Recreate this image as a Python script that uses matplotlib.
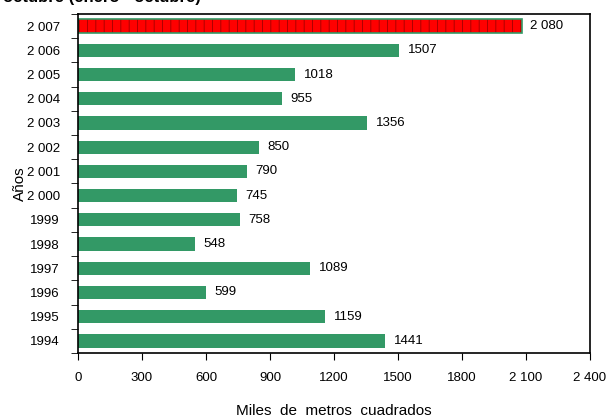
import numpy as np
import matplotlib
matplotlib.use("Agg")
from matplotlib import pyplot as plt

plt.rcParams['font.family'] = ['Liberation Sans', 'DejaVu Sans']
plt.rcParams['hatch.linewidth'] = 0.6

years = ['1994', '1995', '1996', '1997', '1998', '1999', '2 000', '2 001',
         '2 002', '2 003', '2 004', '2 005', '2 006', '2 007']
values = [1441, 1159, 599, 1089, 548, 758, 745, 790, 850, 1356, 955, 1018, 1507, 2080]
value_labels = ['1441', '1159', '599', '1089', '548', '758', '745', '790',
                '850', '1356', '955', '1018', '1507', '2 080']
xticks = [0, 300, 600, 900, 1200, 1500, 1800, 2100, 2400]
xtick_labels = ['0', '300', '600', '900', '1200', '1500', '1800', '2 100', '2 400']

green = '#339966'
fig = plt.figure(figsize=(6.13, 4.19), dpi=100)
ax = fig.add_axes([78/613, 1-353/419, 512/613, 339/419])

y = np.arange(len(years))
bars = ax.barh(y, values, height=0.55, color=green, edgecolor='none')
# last year highlighted
bars[-1].set_facecolor('#ff0000')
bars[-1].set_edgecolor(green)
bars[-1].set_hatch('||')
bars[-1].set_linewidth(1.2)
bars[-1]._hatch_color = matplotlib.colors.to_rgba('#a00000')

for yi, v, lab in zip(y, values, value_labels):
    ax.annotate(lab, (v, yi), xytext=(6, 0), textcoords='offset points',
                va='center', ha='left', fontsize=9.5)

ax.set_xlim(0, 2400)
ax.set_ylim(-0.5, len(years) - 0.5)
ax.set_xticks(xticks)
ax.set_xticklabels(xtick_labels, fontsize=9.5)
ax.set_yticks(y)
ax.set_yticklabels(years, fontsize=9.5)
ax.set_yticks(np.arange(-0.5, len(years)), minor=True)
ax.tick_params(axis='y', which='major', length=0, pad=13)
ax.tick_params(axis='y', which='minor', length=5, direction='out')
ax.tick_params(axis='x', length=5, direction='out', pad=9)
for s in ax.spines.values():
    s.set_linewidth(1.2)

ax.set_xlabel('Miles  de  metros  cuadrados', fontsize=11, labelpad=14)
ax.set_ylabel('Años', fontsize=11, labelpad=0)

fig.text(0.005, 1 - 5/419, 'octubre (enero - octubre)', fontsize=12, fontweight='bold',
         va='bottom', ha='left')

fig.savefig('out.png', dpi=100)
